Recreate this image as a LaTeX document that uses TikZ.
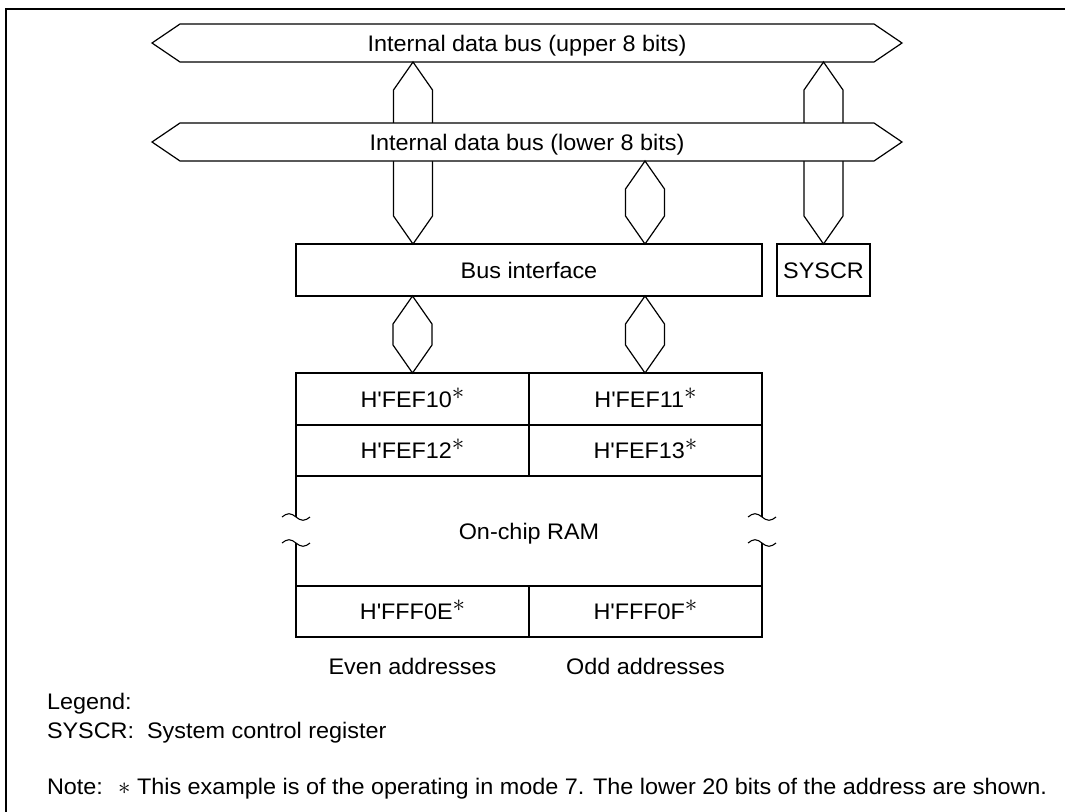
\documentclass[tikz,border=0pt]{standalone}
\usepackage{fontspec}
\setmainfont{Liberation Sans}[FakeStretch=1.04]
\usetikzlibrary{calc,shapes.arrows}
\tikzset{
  every node/.style={font=\fontsize{22.5pt}{28pt}\selectfont, inner sep=0pt, outer sep=0pt, text height=16.1pt, text depth=0pt},
  ln/.style={line width=1.2pt, draw=black},
  bus/.style={ln, fill=white, double arrow, double arrow head extend=0pt, double arrow tip angle=68.3, minimum height=750, minimum width=38},
  box/.style={ln, fill=white, rectangle},
  conn/.style={ln, fill=white, line join=miter},
  txt/.style={anchor=base west},
  wave/.style={line width=1.1pt},
}
\newcommand\hexc[2]{\draw[conn] let \p1=(#1), \p2=(#2) in (\p1) -- (\x1+19.5pt,\y1-28pt) -- (\x1+19.5pt,\y2+28pt) -- (\p2) -- (\x1-19.5pt,\y2+28pt) -- (\x1-19.5pt,\y1-28pt) -- cycle;}
\newcommand\wav[2]{\draw[wave] (#1-14,#2) sin (#1-7,#2-3.3) cos (#1,#2) sin (#1+7,#2+3.3) cos (#1+14,#2);}
\newcommand\bigast{{\fontsize{25pt}{25pt}\selectfont$\ast$}}
\newcommand\addr[1]{H\textquotesingle #1\raisebox{8pt}{\bigast}}
\begin{document}
\begin{tikzpicture}[x=1pt,y=-1pt]
\useasboundingbox (0,0) rectangle (1065,811);
% outer frame (continues beyond the right and bottom edges)
\draw[line width=2pt] (1075,9) -- (6,9) -- (6,825);
% guide coordinates for the vertical bus connectors
\coordinate (k1) at (413,0);
\coordinate (k2) at (645,0);
\coordinate (k3) at (823.5,0);
\coordinate (k4) at (412.5,0);
% buses and blocks
\node[bus] (ubus) at (527,43) {Internal data bus (upper 8 bits)};
\node[box, minimum width=466, minimum height=52] (busif) at (529,270) {Bus interface};
\node[box, minimum width=93, minimum height=52] (syscr) at (823.5,270) {SYSCR};
\hexc{ubus.south -| k1}{busif.north -| k1}
\hexc{ubus.south -| k3}{syscr.north -| k3}
\node[bus] (lbus) at (527,142) {Internal data bus (lower 8 bits)};
\hexc{lbus.south -| k2}{busif.north -| k2}
% RAM table
\node[box, minimum width=233, minimum height=52] (a10) at (412.5,399) {\addr{FEF10}};
\node[box, minimum width=233, minimum height=52] (a11) at (645.5,399) {\addr{FEF11}};
\node[box, minimum width=233, minimum height=51] (a12) at (412.5,450.5) {\addr{FEF12}};
\node[box, minimum width=233, minimum height=51] (a13) at (645.5,450.5) {\addr{FEF13}};
\node (ram) at (529,531) {On-chip RAM};
\node[box, minimum width=233, minimum height=51] (aE) at (412.5,611.5) {\addr{FFF0E}};
\node[box, minimum width=233, minimum height=51] (aF) at (645.5,611.5) {\addr{FFF0F}};
\hexc{busif.south -| k4}{a10.north -| k4}
\hexc{busif.south -| k2}{a11.north -| k2}
% RAM side lines with break marks
\draw[ln] (a12.south west) -- (296,517);
\draw[ln] (296,543) -- (aE.north west);
\draw[ln] (a13.south east) -- (762,517);
\draw[ln] (762,543) -- (aF.north east);
\wav{296}{517}
\wav{296}{543}
\wav{762}{517}
\wav{762}{543}
% column captions
\node (even) at (412.5,666) {Even addresses};
\node (odd) at (645.5,666) {Odd addresses};
% legend and note
\node[txt] (legend) at (47,709.5) {Legend:};
\node[txt] (leg1) at (47,738) {SYSCR:~ System control register};
\node[txt] (note) at (47,794) {Note:~ \bigast\ This example is of the operating in mode 7. The lower 20 bits of the address are shown.};
\end{tikzpicture}
\end{document}
